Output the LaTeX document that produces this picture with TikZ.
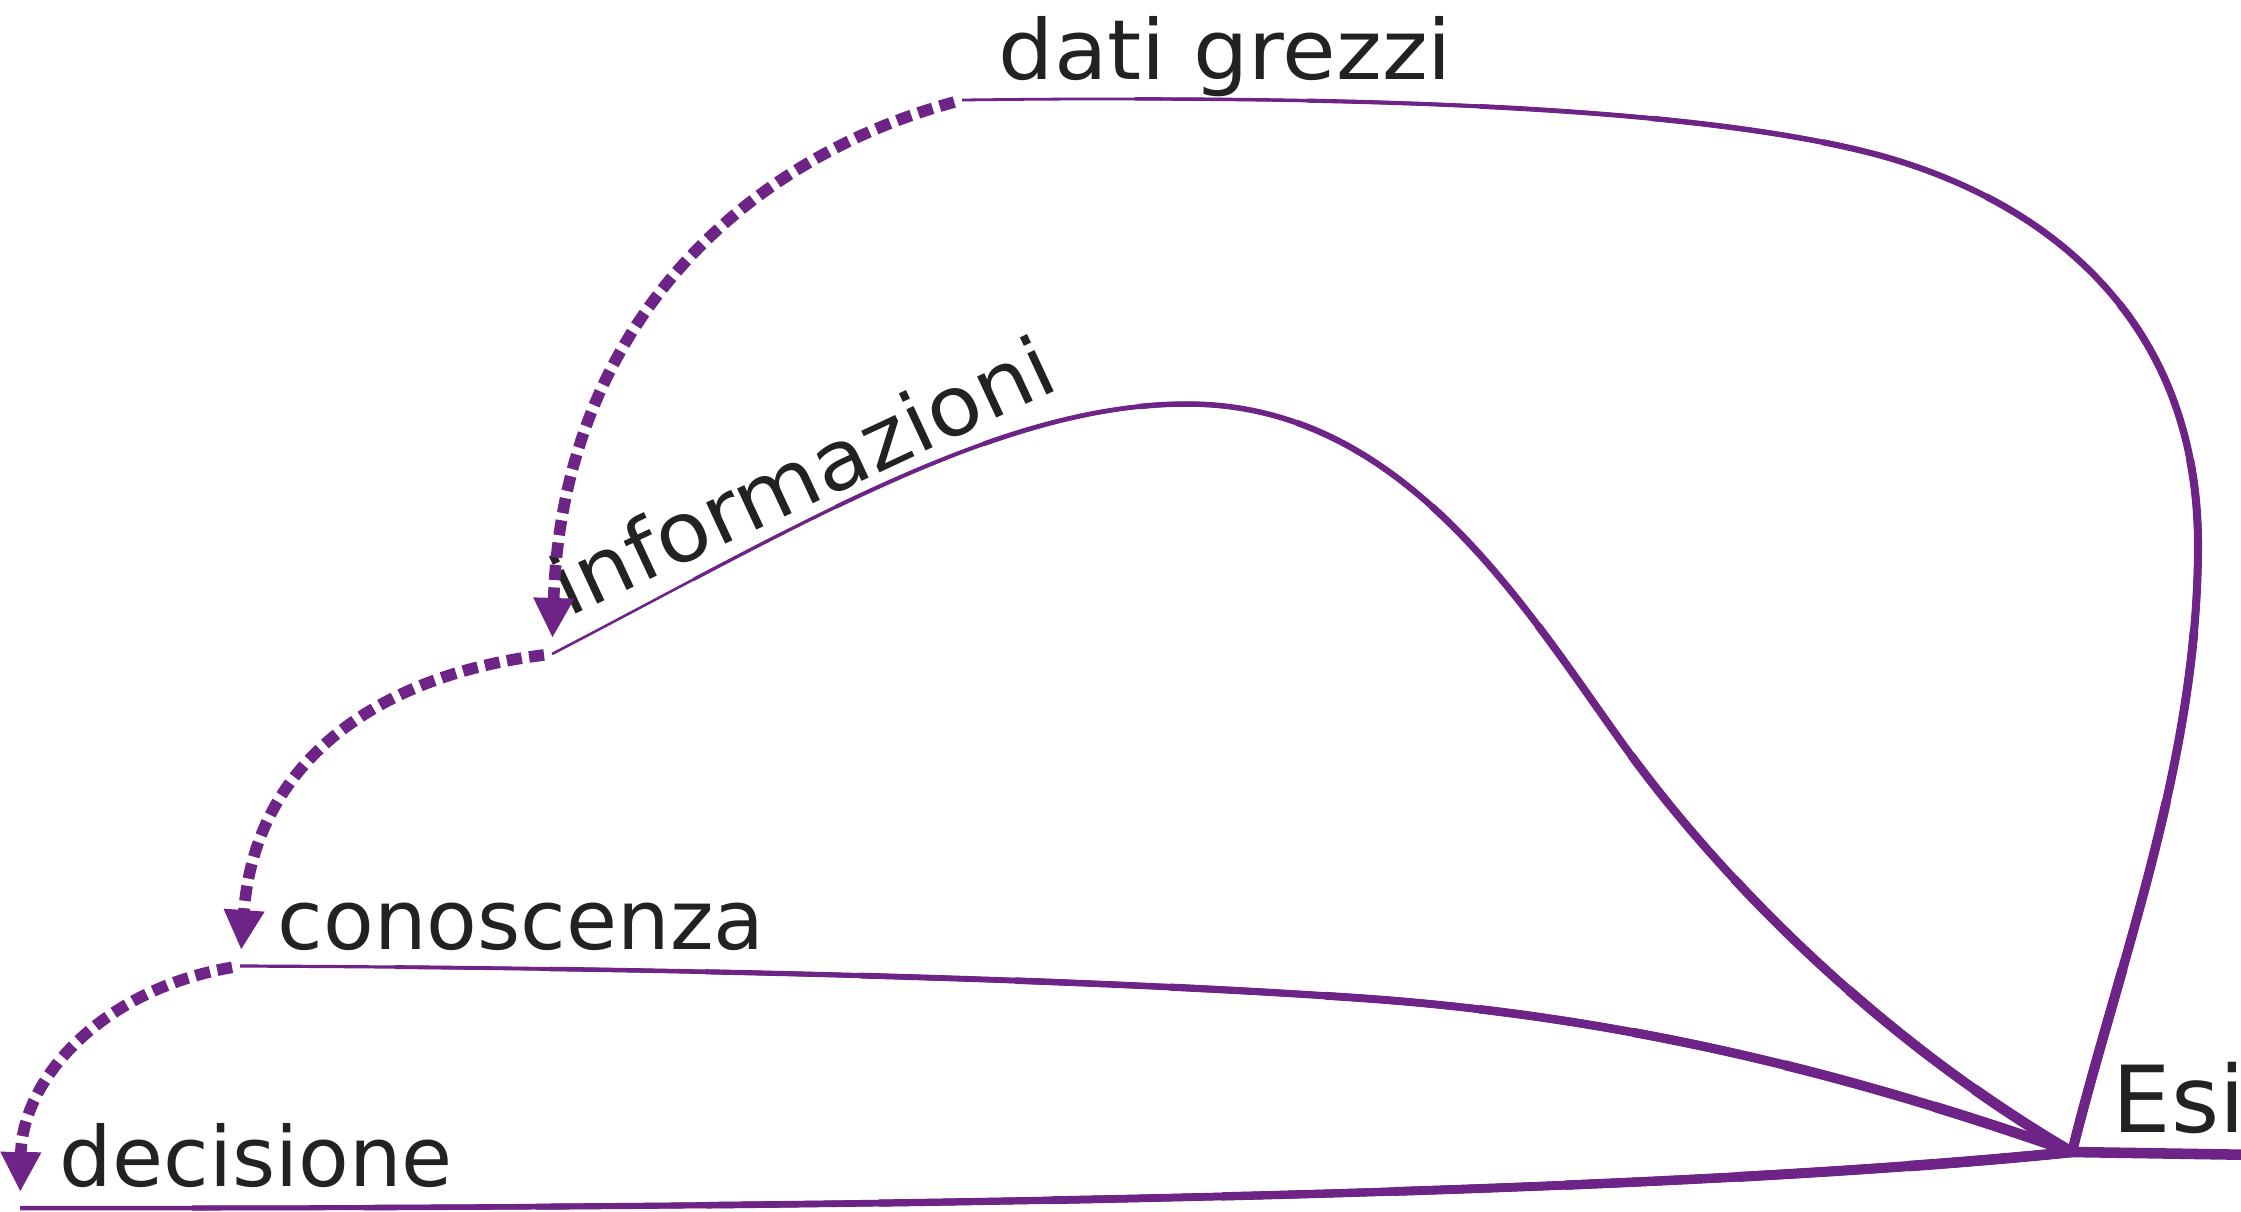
\documentclass[tikz,border=0pt]{standalone}
\usepackage{fontspec}
\setmainfont{DejaVu Sans}
\usetikzlibrary{arrows.meta}
\definecolor{plum}{RGB}{110,35,135}
\definecolor{ink}{HTML}{222222}
% tapered stroke: #1 path, #2 approx length (cm), #3 start width (px), #4 end width (px)
\newcommand{\taperdraw}[4]{%
  \foreach \k in {0,...,11}{%
    \pgfmathsetmacro\ww{(#3+(#4-#3)*\k/11)*0.2845}%
    \pgfmathsetmacro\ss{#2*\k/12+0.001}%
    \draw[plum, line width=\ww pt, dash pattern=on 60cm off \ss cm, dash phase=60cm] #1;%
  }}
\begin{document}
\begin{tikzpicture}[x=0.01cm,y=-0.01cm,
  lbl/.style={font=\fontsize{23.6pt}{28pt}\selectfont, text=ink, inner sep=0pt, anchor=base west},
  flow/.style={draw=plum, line width=3.3pt, dash pattern=on 4.3pt off 2.1pt,
    -{Triangle[length=0.4cm,width=0.38cm]}, shorten <=0.08cm, shorten >=0.16cm}]
\useasboundingbox (0,0) rectangle (2241,1211);
\coordinate (dg) at (962,100);
\coordinate (inf) at (552,654);
\coordinate (con) at (240,966);
\coordinate (dec) at (20,1208);
\coordinate (J) at (2072,1152);
\coordinate (R) at (2260,1155);

\node[lbl, xscale=1.05] (tdg) at (998,79) {dati grezzi};
\node[lbl, rotate=25, xscale=1.06] (tinf) at (568,618) {informazioni};
\node[lbl] (tcon) at (277,949) {conoscenza};
\node[lbl] (tdec) at (59,1186) {decisione};
\node[lbl, font=\fontsize{26.3pt}{30pt}\selectfont] (tesi) at (2112,1132) {Esi};

\taperdraw{(dg) .. controls (1350,95) and (1700,106) .. (1882,156) .. controls (2060,206) and (2198,330) .. (2198,545) .. controls (2198,760) and (2120,960) .. (J)}{20.7}{2.8}{10}
\taperdraw{(inf) .. controls (800,525) and (1000,404) .. (1187,404) .. controls (1400,404) and (1520,600) .. (1620,740) .. controls (1720,880) and (1880,1040) .. (J)}{19.2}{2.6}{10.5}
\taperdraw{(con) .. controls (700,968) and (1100,980) .. (1359,998) .. controls (1650,1018) and (1880,1085) .. (J)}{18.6}{3.2}{10.5}
\taperdraw{(dec) .. controls (900,1209) and (1650,1195) .. (J)}{20.6}{4.5}{10.5}
\draw[plum, line width=3pt, line cap=round] (J) -- (R);

\draw[flow] (dg) .. controls (740,160) and (562,330) .. (inf);
\draw[flow] (inf) .. controls (380,675) and (255,760) .. (con);
\draw[flow] (con) .. controls (100,990) and (22,1080) .. (dec);
\end{tikzpicture}
\end{document}
